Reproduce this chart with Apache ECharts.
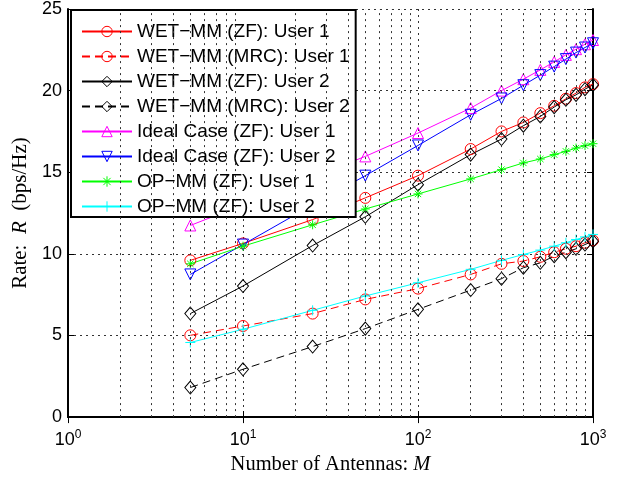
<!DOCTYPE html>
<html>
<head>
<meta charset="utf-8">
<script src="https://cdn.jsdelivr.net/npm/echarts@6/dist/echarts.min.js"></script>
<style>
html,body{margin:0;padding:0;background:#fff;}
#chart{width:626px;height:480px;}
</style>
</head>
<body>
<div id="chart"></div>
<script>
// number of antennas M
var antennas = [5, 10, 25, 50, 100, 200, 300, 400, 500, 600, 700, 800, 900, 1000];

var wetZfUser1  = [9.6, 10.64, 12.1, 13.43, 14.79, 16.42, 17.5, 18.05, 18.62, 19.07, 19.5, 19.85, 20.2, 20.4];
var wetMrcUser1 = [5.01, 5.58, 6.34, 7.21, 7.87, 8.74, 9.39, 9.56, 9.82, 10.1, 10.31, 10.47, 10.68, 10.82];
var wetZfUser2  = [6.34, 8.03, 10.51, 12.27, 14.24, 16.08, 17.03, 17.85, 18.42, 18.99, 19.44, 19.74, 20.09, 20.35];
var wetMrcUser2 = [1.81, 2.93, 4.32, 5.42, 6.6, 7.78, 8.48, 9.15, 9.45, 9.86, 10.1, 10.31, 10.57, 10.78];
var idealUser1  = [11.74, 13.0, 14.7, 15.97, 17.4, 18.93, 20.0, 20.7, 21.27, 21.76, 22.19, 22.54, 22.84, 23.1];
var idealUser2  = [8.74, 10.57, 13.0, 14.79, 16.64, 18.52, 19.52, 20.33, 20.95, 21.47, 21.93, 22.33, 22.64, 22.9];
var opUser1     = [9.39, 10.47, 11.78, 12.75, 13.67, 14.59, 15.16, 15.57, 15.81, 16.08, 16.28, 16.48, 16.63, 16.75];
var opUser2     = [4.57, 5.38, 6.54, 7.42, 8.23, 9.05, 9.6, 9.96, 10.23, 10.47, 10.68, 10.88, 11.04, 11.19];

// minor log grid lines (2..9 in each decade)
var minorGrid = [2, 3, 4, 5, 6, 7, 8, 9, 20, 30, 40, 50, 60, 70, 80, 90, 200, 300, 400, 500, 600, 700, 800, 900];

var STAR = 'path://M10,0L10,20M0,10L20,10M3,3L17,17M3,17L17,3';
var PLUS = 'path://M10,0L10,20M0,10L20,10';

var chart = echarts.init(document.getElementById('chart'));

function mkSeries(name, vals, color, symbol, size, dashed, rotate) {
	return {
		name: name,
		type: 'line',
		data: antennas.map(function (m, i) { return [m, vals[i]]; }),
		symbol: symbol,
		symbolSize: size,
		symbolRotate: rotate || 0,
		showAllSymbol: true,
		lineStyle: { color: color, width: 1, type: dashed ? [8, 5] : 'solid' },
		itemStyle: { color: 'rgba(0,0,0,0)', borderColor: color, borderWidth: 1 },
		emphasis: { disabled: true }
	};
}

var series = [
	mkSeries('WET\u2212MM (ZF): User 1', wetZfUser1, '#ff0000', 'circle', 11, false),
	mkSeries('WET\u2212MM (MRC): User 1', wetMrcUser1, '#ff0000', 'circle', 11, true),
	mkSeries('WET\u2212MM (ZF): User 2', wetZfUser2, '#000000', 'diamond', [11, 13], false),
	mkSeries('WET\u2212MM (MRC): User 2', wetMrcUser2, '#000000', 'diamond', [11, 13], true),
	mkSeries('Ideal Case (ZF): User 1', idealUser1, '#ff00ff', 'triangle', 11, false),
	mkSeries('Ideal Case (ZF): User 2', idealUser2, '#0000ff', 'triangle', 11, false, 180),
	mkSeries('OP\u2212MM (ZF): User 1', opUser1, '#00ff00', STAR, 9, false),
	mkSeries('OP\u2212MM (ZF): User 2', opUser2, '#00ffff', PLUS, 10, false)
];
var names = series.map(function (s) { return s.name; });

series.push({
	name: 'minor',
	type: 'line',
	data: [],
	silent: true,
	markLine: {
		silent: true,
		symbol: 'none',
		label: { show: false },
		animation: false,
		lineStyle: { type: [2, 4], color: '#333', width: 1 },
		data: minorGrid.map(function (v) { return { xAxis: v }; })
	}
});

var option = {
	animation: false,
	backgroundColor: '#fff',
	grid: { left: 68, right: 33, top: 9, bottom: 62 },
	legend: {
		data: names,
		orient: 'vertical',
		left: 71, top: 10,
		padding: [12, 6, 1, 10],
		itemGap: 6,
		itemWidth: 50,
		itemHeight: 13,
		selectedMode: false,
		backgroundColor: '#fff',
		borderColor: '#000',
		borderWidth: 2,
		itemStyle: { color: 'rgba(0,0,0,0)', borderWidth: 1 },
		textStyle: { fontFamily: 'Liberation Sans, Arial', fontSize: 19, color: '#000' }
	},
	xAxis: [{
		type: 'log', logBase: 10, min: 1, max: 1000,
		name: 'Number of Antennas: {i|M}',
		nameLocation: 'middle', nameGap: 33,
		nameTextStyle: {
			fontFamily: 'Liberation Serif', fontSize: 20.5, color: '#000',
			rich: { i: { fontFamily: 'Liberation Serif', fontStyle: 'italic', fontSize: 20.5, color: '#000' } }
		},
		axisLine: { lineStyle: { color: '#000', width: 2 } },
		axisTick: { inside: true, length: 6, lineStyle: { color: '#000' } },
		axisLabel: {
			margin: 12,
			formatter: function (v) { return '{b|10}{s|' + Math.round(Math.log10(v)) + '}'; },
			rich: {
				b: { fontFamily: 'Liberation Sans, Arial', fontSize: 18, color: '#000' },
				s: { fontFamily: 'Liberation Sans, Arial', fontSize: 12, color: '#000', padding: [0, 0, 10, 0] }
			}
		},
		splitLine: { show: true, lineStyle: { type: [2, 4], color: '#333', width: 1 } }
	}, {
		type: 'log', logBase: 10, min: 1, max: 1000, position: 'top',
		axisLine: { lineStyle: { color: '#000', width: 2 } },
		axisTick: { inside: true, length: 6, lineStyle: { color: '#000' } },
		axisLabel: { show: false },
		splitLine: { show: false }
	}],
	yAxis: [{
		type: 'value', min: 0, max: 25, interval: 5,
		name: 'Rate:  {i|R}  (bps/Hz)',
		nameLocation: 'middle', nameGap: 30,
		nameTextStyle: {
			fontFamily: 'Liberation Serif', fontSize: 21, color: '#000',
			rich: { i: { fontFamily: 'Liberation Serif', fontStyle: 'italic', fontSize: 21, color: '#000' } }
		},
		axisLine: { show: true, lineStyle: { color: '#000', width: 2 } },
		axisTick: { show: true, inside: true, length: 6, lineStyle: { color: '#000' } },
		axisLabel: { margin: 6, fontFamily: 'Liberation Sans, Arial', fontSize: 18, color: '#000' },
		splitLine: { show: true, lineStyle: { type: [2, 4], color: '#333', width: 1 } }
	}, {
		type: 'value', min: 0, max: 25, interval: 5, position: 'right',
		axisLine: { show: true, lineStyle: { color: '#000', width: 2 } },
		axisTick: { show: true, inside: true, length: 6, lineStyle: { color: '#000' } },
		axisLabel: { show: false },
		splitLine: { show: false }
	}],
	series: series
};
chart.setOption(option);
</script>
</body>
</html>
